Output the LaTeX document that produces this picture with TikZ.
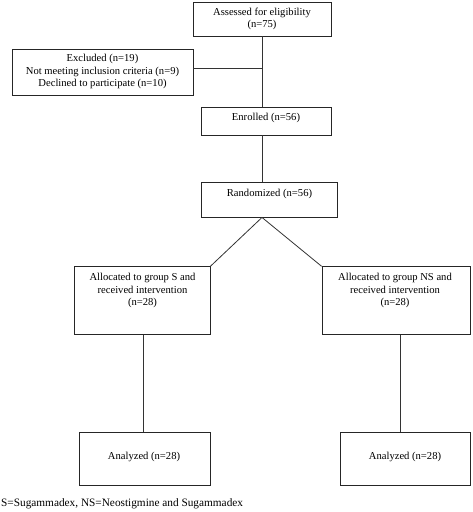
\documentclass[tikz,border=0pt]{standalone}
\usepackage{fontspec}
\setmainfont{Liberation Serif}
\begin{document}
\begin{tikzpicture}[x=1pt,y=-1pt,
  box/.style={draw=black!85,line width=0.8pt,inner sep=0pt},
  txt/.style={inner sep=0pt,align=center,font=\fontsize{10.6}{12.4}\selectfont},
  conn/.style={draw=black!80,line width=0.8pt}]
\useasboundingbox (0,0) rectangle (472,512);
% boxes
\node[box,minimum width=138pt,minimum height=34pt] (assess) at (262,19) {};
\node[box,minimum width=181pt,minimum height=46pt] (excl) at (102.5,72) {};
\node[box,minimum width=130pt,minimum height=28pt] (enrol) at (266,121) {};
\node[box,minimum width=136pt,minimum height=34.7pt] (rand) at (269,199.7) {};
\node[box,minimum width=136pt,minimum height=68pt] (lalloc) at (142,300.7) {};
\node[box,minimum width=148pt,minimum height=68pt] (ralloc) at (396,300.7) {};
\node[box,minimum width=131pt,minimum height=52.7pt] (lanal) at (144.5,458.7) {};
\node[box,minimum width=130pt,minimum height=52.7pt] (ranal) at (405.3,458.7) {};
% texts
\node[txt] (tassess) at (262,18.8) {Assessed for eligibility\\(n=75)};
\node[txt] (texcl) at (102.5,71.5) {Excluded (n=19)\\Not meeting inclusion criteria (n=9)\\Declined to participate (n=10)};
\node[txt] (tenrol) at (266,117.5) {Enrolled (n=56)};
\node[txt] (trand) at (269.5,193.5) {Randomized (n=56)};
\node[txt] (tlalloc) at (142.5,290.7) {Allocated to group S and\\received intervention\\(n=28)};
\node[txt] (tralloc) at (395,290.7) {Allocated to group NS and\\received intervention\\(n=28)};
\node[txt] (tlanal) at (144,456.7) {Analyzed (n=28)};
\node[txt] (tranal) at (405,456.7) {Analyzed (n=28)};
\node[txt,anchor=west,font=\fontsize{11.3}{13}\selectfont] (foot) at (1,504) {S=Sugammadex, NS=Neostigmine and Sugammadex};
% connector helpers
\coordinate (spine) at (262,0);
\coordinate (lx) at (143.3,0);
\coordinate (rx) at (400.7,0);
\coordinate (exj) at (262,68.7);
% connectors
\draw[conn] (assess.south) -- (spine |- enrol.north);
\draw[conn] ([yshift=3.3pt]excl.east) -- (exj);
\draw[conn] (spine |- enrol.south) -- (spine |- rand.north);
\draw[conn] (lalloc.north east) -- (spine |- rand.south) -- (ralloc.north west);
\draw[conn] (lx |- lalloc.south) -- (lx |- lanal.north);
\draw[conn] (rx |- ralloc.south) -- (rx |- ranal.north);
\end{tikzpicture}
\end{document}
